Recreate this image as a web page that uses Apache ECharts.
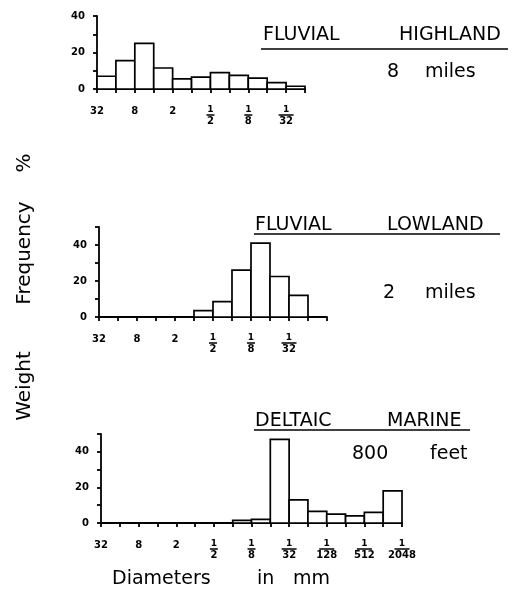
<!DOCTYPE html>
<html><head><meta charset="utf-8">
<script src="https://cdn.jsdelivr.net/npm/echarts@6/dist/echarts.min.js"></script>
<style>html,body{margin:0;padding:0;background:#fff}#c{width:512px;height:593px}</style>
</head><body><div id="c"></div>
<script>
// Tick labels (one per phi-unit boundary)
const highlandTicks = ['32','','8','','2','','1/2','','1/8','','1/32',''];
const lowlandTicks  = ['32','','8','','2','','1/2','','1/8','','1/32','',''];
const marineTicks   = ['32','','8','','2','','1/2','','1/8','','1/32','','1/128','','1/512','','1/2048'];
// Weight frequency % per class interval
const highlandValues = [7, 15.5, 25, 11.5, 5.5, 6.5, 9, 7.5, 6, 3.5, 1.5];
const lowlandValues  = [0, 0, 0, 0, 0, 3.5, 8.5, 26, 41, 22.5, 12, 0];
const marineValues   = [0, 0, 0, 0, 0, 0, 0, 1.5, 2, 47, 13, 6.5, 5, 4, 6, 18];
const yMaxes = [40, 50, 50];
const yLabelValues = [0, 20, 40];

const FONT = 'DejaVu Sans';
const TXT = 'DejaVu Sans';

function tickFmt(ticks) {
  return function (v) {
    const s = ticks[Math.round(v)];
    if (!s) return '';
    if (s.indexOf('/') >= 0) {
      const d = s.split('/')[1];
      const b = d.length === 1 ? 'b1' : 'b2';
      return '{n|1}\n{' + b + '|\u00a0}\n{d|' + d + '}';
    }
    return '{d|' + s + '}';
  };
}
const rich = {
  n: {fontSize: 9, fontWeight: 'bold', fontFamily: FONT, lineHeight: 8, align: 'center', color: '#000'},
  b1: {fontSize: 1, width: 8, height: 1.5, lineHeight: 2, backgroundColor: '#000', align: 'center'},
  b2: {fontSize: 1, width: 15, height: 1.5, lineHeight: 2, backgroundColor: '#000', align: 'center'},
  d: {fontSize: 10, fontWeight: 'bold', fontFamily: FONT, lineHeight: 11, align: 'center', color: '#000'}
};

function renderBar(params, api) {
  const i = api.value(0), v = api.value(1);
  if (!v) return null;
  const p0 = api.coord([i, 0]);
  const p1 = api.coord([i + 1, v]);
  return {
    type: 'rect',
    shape: {x: p0[0], y: p1[1], width: p1[0] - p0[0], height: p0[1] - p1[1]},
    style: {fill: '#fff', stroke: '#000', lineWidth: 1.7}
  };
}

const panels = [
  {ticks: highlandTicks, values: highlandValues, grid: {left: 97, top: 16, width: 208, height: 73}},
  {ticks: lowlandTicks, values: lowlandValues, grid: {left: 99, top: 227, width: 228, height: 90}},
  {ticks: marineTicks, values: marineValues, grid: {left: 101, top: 434, width: 301, height: 89}}
];

const lineStyle = {color: '#000', width: 1.8};
const option = {
  animation: false,
  backgroundColor: '#fff',
  grid: panels.map(p => Object.assign({containLabel: false}, p.grid)),
  xAxis: panels.map((p, k) => ({
    type: 'value', gridIndex: k, min: 0, max: p.ticks.length - 1, interval: 1,
    splitLine: {show: false},
    axisLine: {show: true, onZero: false, lineStyle: lineStyle},
    axisTick: {show: true, length: 4, lineStyle: lineStyle},
    axisLabel: {show: true, margin: 17, formatter: tickFmt(p.ticks), rich: rich,
      showMinLabel: true, showMaxLabel: true, hideOverlap: false}
  })),
  yAxis: panels.map((p, k) => ({
    type: 'value', gridIndex: k, min: 0, max: yMaxes[k], interval: 10,
    splitLine: {show: false},
    axisLine: {show: true, lineStyle: lineStyle},
    axisTick: {show: true, length: 4, lineStyle: lineStyle},
    axisLabel: {show: true, margin: 12, fontSize: 10, fontWeight: 'bold', fontFamily: FONT, color: '#000',
      formatter: v => (yLabelValues.indexOf(v) >= 0 ? String(v) : '')}
  })),
  series: panels.map((p, k) => ({
    type: 'custom', xAxisIndex: k, yAxisIndex: k,
    renderItem: renderBar,
    encode: {x: 0, y: 1},
    data: p.values.map((v, i) => [i, v]),
    z: 3
  })),
  graphic: []
};

function word(text, x, y, size) {
  return {
    type: 'text', x: x, y: y,
    style: {text: text, fontSize: size || 19, fontFamily: TXT, fill: '#000', verticalAlign: 'middle', align: 'left'}
  };
}
function vword(text, x, y) {
  return {
    type: 'text', x: x, y: y, rotation: Math.PI / 2,
    style: {text: text, fontSize: 20, fontFamily: TXT, fill: '#000', align: 'center', verticalAlign: 'middle'}
  };
}
function uline(x1, x2, y) {
  return {type: 'line', shape: {x1: x1, y1: y, x2: x2, y2: y}, style: {stroke: '#000', lineWidth: 1.4}};
}
option.graphic = [
  word('FLUVIAL', 263, 35), word('HIGHLAND', 399, 35), uline(261, 508, 49),
  word('8', 387, 72), word('miles', 425, 72),
  word('FLUVIAL', 255, 225), word('LOWLAND', 387, 225), uline(254, 500, 234),
  word('2', 383, 293), word('miles', 425, 293),
  word('DELTAIC', 255, 421), word('MARINE', 387, 421), uline(254, 470, 430),
  word('800', 352, 454), word('feet', 430, 454),
  word('Diameters', 112, 579), word('in', 257, 579), word('mm', 293, 579),
  vword('Weight', 25, 386), vword('Frequency', 25, 253), vword('%', 25, 163)
];

const chart = echarts.init(document.getElementById('c'), null, {renderer: 'canvas'});
chart.setOption(option);
</script>
</body></html>
